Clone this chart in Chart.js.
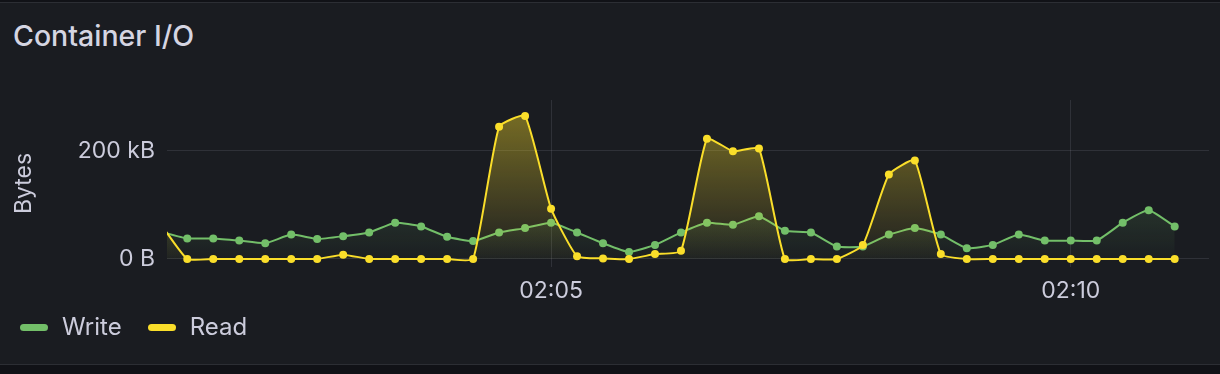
<!DOCTYPE html>
<html>
<head>
<meta charset="utf-8">
<script src="https://cdn.jsdelivr.net/npm/chart.js@4.4.1/dist/chart.umd.min.js"></script>
<style>
  html, body { margin: 0; padding: 0; background: #111217; }
  body { width: 1220px; height: 374px; position: relative; overflow: hidden; font-family: Inter, "Noto Sans", sans-serif; }
  #panel { position: absolute; left: -2px; top: 2px; width: 1222px; height: 361px; background: #1a1c21; border: 1px solid #2c2e34; }
  #title { position: absolute; left: 13px; top: 20px; font-size: 28.5px; font-weight: 500; color: #d5d5e2; line-height: 32px; }
  #chartWrap { position: absolute; left: 0; top: 0; width: 1220px; height: 374px; }
  #legend { position: absolute; left: 20px; top: 313px; display: flex; align-items: center; font-size: 24px; color: #ccccdc; line-height: 28px; }
  .sw { display: inline-block; width: 28px; height: 7px; border-radius: 4px; margin-right: 14px; }
  .item { display: flex; align-items: center; margin-right: 26px; }
</style>
</head>
<body>
<div id="panel"></div>
<div id="title">Container I/O</div>
<div id="chartWrap"><canvas id="myChart" width="1220" height="374"></canvas></div>
<div id="legend">
  <span class="item"><span class="sw" style="background:#73BF69"></span>Write</span>
  <span class="item"><span class="sw" style="background:#FADE2A"></span>Read</span>
</div>
<script>
const times = [
  "02:01:15", "02:01:30", "02:01:45", "02:02:00", "02:02:15", "02:02:30", "02:02:45", "02:03:00",
  "02:03:15", "02:03:30", "02:03:45", "02:04:00", "02:04:15", "02:04:30", "02:04:45", "02:05:00",
  "02:05:15", "02:05:30", "02:05:45", "02:06:00", "02:06:15", "02:06:30", "02:06:45", "02:07:00",
  "02:07:15", "02:07:30", "02:07:45", "02:08:00", "02:08:15", "02:08:30", "02:08:45", "02:09:00",
  "02:09:15", "02:09:30", "02:09:45", "02:10:00", "02:10:15", "02:10:30", "02:10:45", "02:11:00"
];
// values in kB
const writeKB = [50, 38, 38, 34, 29, 45, 37, 42, 49, 67, 60, 41, 33, 49, 57, 67, 49, 29, 13, 26,
  49, 67, 63, 79, 52, 49, 23, 23, 45, 57, 45, 20, 26, 45, 34, 34, 34, 67, 90, 60];
const readKB = [63, 0, 0, 0, 0, 0, 0, 8, 0, 0, 0, 0, 0, 244, 264, 93, 5, 1, 0, 9,
  15, 222, 199, 204, 0, 0, 0, 26, 156, 182, 9, 0, 0, 0, 0, 0, 0, 0, 0, 0];
const xTicks = ["02:05", "02:10"];
const yTicks = [0, 200000];

function toSec(t) {
  const p = t.split(":").map(Number);
  return (p[0] - 2) * 3600 + p[1] * 60 + (p[2] || 0);
}
function points(vals) {
  return times.map((t, i) => ({ x: toSec(t), y: vals[i] * 1000 }));
}
function fade(rgb, top) {
  return (c) => {
    const area = c.chart.chartArea;
    if (!area) return "transparent";
    const g = c.chart.ctx.createLinearGradient(0, area.top, 0, area.bottom);
    g.addColorStop(0, "rgba(" + rgb + "," + top + ")");
    g.addColorStop(1, "rgba(" + rgb + ",0)");
    return g;
  };
}

const ctx = document.getElementById("myChart");
new Chart(ctx, {
  type: "line",
  data: {
    datasets: [
      {
        label: "Write",
        data: points(writeKB),
        borderColor: "#73BF69",
        backgroundColor: fade("115,191,105", 0.4),
        pointBackgroundColor: "#73BF69",
        fill: "origin",
        order: 2,
      },
      {
        label: "Read",
        data: points(readKB),
        borderColor: "#FADE2A",
        backgroundColor: fade("250,222,42", 0.45),
        pointBackgroundColor: "#FADE2A",
        fill: "origin",
        order: 1,
      },
    ],
  },
  options: {
    responsive: false,
    animation: false,
    layout: { padding: { top: 100, right: 11, left: 10, bottom: 67 } },
    elements: {
      line: { borderWidth: 2, tension: 0.15 },
      point: { radius: 4, borderWidth: 0, hoverRadius: 4 },
    },
    plugins: { legend: { display: false }, tooltip: { enabled: false } },
    scales: {
      x: {
        type: "linear",
        min: 78.3,
        max: 679.8,
        afterBuildTicks: (s) => { s.ticks = xTicks.map((l) => ({ value: toSec(l) })); },
        afterFit: (s) => { s.height = 40; },
        ticks: {
          color: "#ccccdc",
          font: { family: "Inter", size: 23 },
          padding: 10,
          maxRotation: 0,
          callback: (v) => xTicks.find((l) => toSec(l) === v),
        },
        grid: { color: "rgba(204,204,220,0.12)", drawTicks: false },
        border: { display: false },
      },
      y: {
        min: -14800,
        max: 293600,
        afterBuildTicks: (s) => { s.ticks = yTicks.map((v) => ({ value: v })); },
        afterFit: (s) => { s.width = 157; },
        title: {
          display: true,
          text: "Bytes",
          color: "#ccccdc",
          font: { family: "Inter", size: 23 },
          padding: 0,
        },
        ticks: {
          color: "#ccccdc",
          font: { family: "Inter", size: 23 },
          padding: 12,
          callback: (v) => (v === 0 ? "0 B" : v / 1000 + " kB"),
        },
        grid: { color: "rgba(204,204,220,0.12)", drawTicks: false },
        border: { display: false },
      },
    },
  },
});
</script>
</body>
</html>
